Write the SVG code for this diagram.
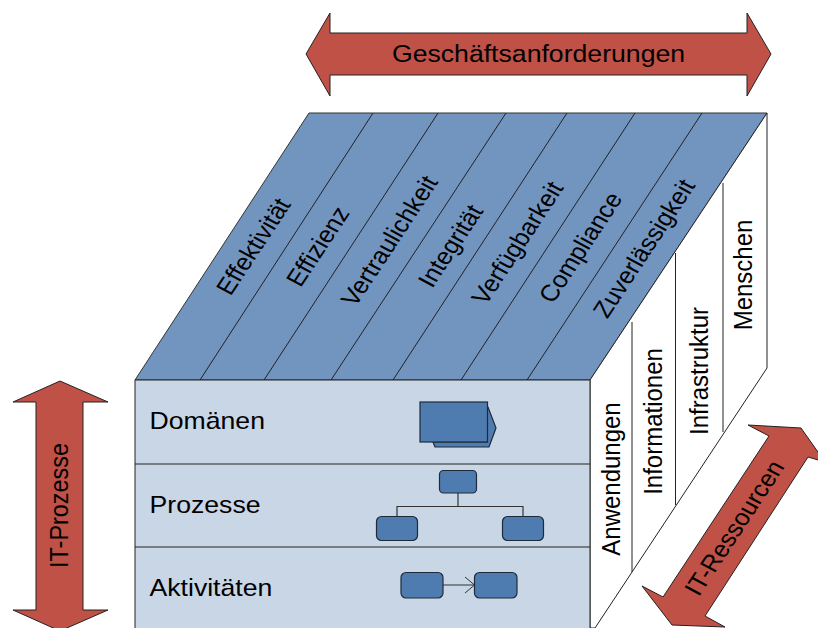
<svg xmlns="http://www.w3.org/2000/svg" width="818" height="628" viewBox="0 0 818 628">
<style>
text{font-family:"Liberation Sans",Arial,sans-serif;fill:#000;font-size:24px}
text.r{font-size:23.400px}
.arrow{fill:#c05146;stroke:#222;stroke-width:1}
.ic{fill:#4f7cb0;stroke:#1f2a38;stroke-width:1.2}
.ln{fill:none;stroke:#222;stroke-width:1}
.mid{text-anchor:middle}
</style>
<rect width="818" height="628" fill="#fff"/>
<g id="top-face">
<polygon points="309,113 767,113 590,380 135,380" fill="#7295c0" stroke="#333" stroke-width="1"/>
</g>
<g id="side-face">
<polygon points="767,113 767,368 595,628 590,628 590,380" fill="#fff" stroke="#222" stroke-width="1"/>
</g>
<g id="front-face">
<rect x="135" y="380" width="455" height="248" fill="#c9d6e6"/>
<path d="M135 380H590M135 464H590M135 547H590M135 380V628M590 380V628" class="ln"/>
</g>
<g id="connectors">
<path class="ln" d="M373 113L200 380M438 113L264 380M506 113L331 380M567 113L393 380M635 113L461 380M702 113L527 380"/>
<path class="ln" d="M632 322V572M675.500 253V505M723 183V432"/>
<path d="M458 493V506.500M397 516.500V506.500H523V516.500" fill="none" stroke="#333" stroke-width="1.200"/>
<path d="M443 585H474.500M465 577L474.500 585L465 593" fill="none" stroke="#333" stroke-width="1"/>
</g>
<g id="geschaeftsanforderungen">
<polygon class="arrow" points="306,54 330,13 330,33 747,33 747,13 771,54 747,96 747,75 330,75 330,96"/>
<text class="mid" transform="translate(538.500,62) scale(1.11,1)">Geschäftsanforderungen</text>
</g>
<g id="it-prozesse">
<polygon class="arrow" points="60,381 108,402 83,402 83,610 108,610 60,631 13,610 36,610 36,402 13,402"/>
<text class="mid r" transform="translate(68,505.500) scale(1.11,1) rotate(-90)">IT-Prozesse</text>
</g>
<g id="it-ressourcen">
<polygon class="arrow" points="801,428 748,425 769,436 663,597 642,586 672,625 725,627 705,616 808,457 825,462"/>
<text class="mid r" transform="translate(742,532) scale(1.11,1) rotate(-59.200)">IT-Ressourcen</text>
</g>
<g id="effektivitaet"><text class="mid r" transform="translate(261,250.500) scale(1.11,1) rotate(-59.200)">Effektivität</text></g>
<g id="effizienz"><text class="mid r" transform="translate(325.500,250.500) scale(1.11,1) rotate(-59.200)">Effizienz</text></g>
<g id="vertraulichkeit"><text class="mid r" transform="translate(397,245) scale(1.11,1) rotate(-59.200)">Vertraulichkeit</text></g>
<g id="integritaet"><text class="mid r" transform="translate(458,250) scale(1.11,1) rotate(-59.200)">Integrität</text></g>
<g id="verfuegbarkeit"><text class="mid r" transform="translate(525,247) scale(1.11,1) rotate(-59.200)">Verfügbarkeit</text></g>
<g id="compliance"><text class="mid r" transform="translate(588,251.500) scale(1.11,1) rotate(-59.200)">Compliance</text></g>
<g id="zuverlaessigkeit"><text class="mid r" transform="translate(651.500,252.500) scale(1.11,1) rotate(-59.200)">Zuverlässigkeit</text></g>
<g id="anwendungen"><text class="mid" transform="translate(620,479) scale(1.11,1) rotate(-90)">Anwendungen</text></g>
<g id="informationen"><text class="mid" transform="translate(662,421.500) scale(1.11,1) rotate(-90)">Informationen</text></g>
<g id="infrastruktur"><text class="mid" transform="translate(708,371) scale(1.11,1) rotate(-90)">Infrastruktur</text></g>
<g id="menschen"><text class="mid" transform="translate(752,275) scale(1.11,1) rotate(-90)">Menschen</text></g>
<g id="domaenen">
<text transform="translate(149.500,429) scale(1.11,1)">Domänen</text>
<polygon class="ic" points="433,442 435,447 489,447 496,428 488,407 487,407 487,442"/>
<rect class="ic" x="420" y="402" width="67.500" height="40"/>
</g>
<g id="prozesse">
<text transform="translate(149.500,513) scale(1.11,1)">Prozesse</text>
<rect class="ic" x="439.500" y="470.500" width="37" height="22.500" rx="4"/>
<rect class="ic" x="376.500" y="516.500" width="41" height="24" rx="5"/>
<rect class="ic" x="502.500" y="516.500" width="41" height="24" rx="5"/>
</g>
<g id="aktivitaeten">
<text transform="translate(149.500,596) scale(1.11,1)">Aktivitäten</text>
<rect class="ic" x="401" y="572.500" width="42" height="25.500" rx="5"/>
<rect class="ic" x="474.500" y="572.500" width="42.500" height="25.500" rx="5"/>
</g>
</svg>
